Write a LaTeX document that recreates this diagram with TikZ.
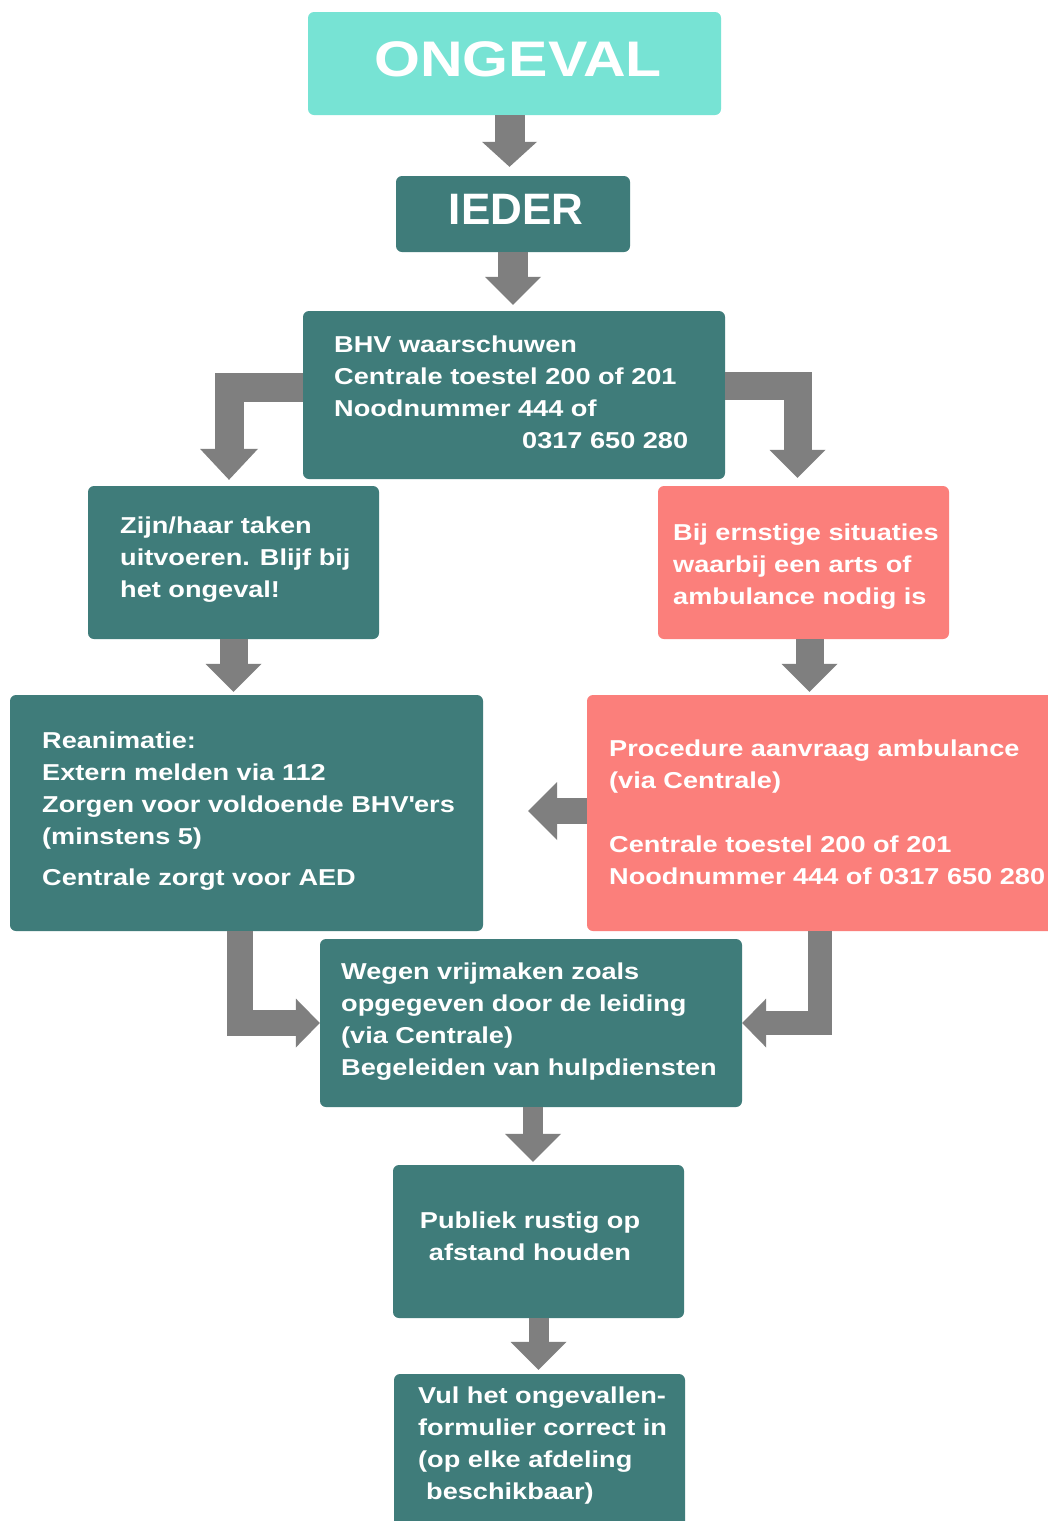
\documentclass[tikz,border=0pt]{standalone}
\usepackage{fontspec}
\setmainfont{Liberation Sans}[FakeStretch=1.18]
\newfontfamily\headfont{Liberation Sans}
\usetikzlibrary{arrows.meta}
\definecolor{turq}{HTML}{77E3D4}
\definecolor{boxteal}{HTML}{3F7C7A}
\definecolor{alertred}{HTML}{FB7F7B}
\definecolor{arrowgray}{HTML}{7F7F7F}

\begin{document}
\begin{tikzpicture}[x=1pt,y=-1pt,
    card/.style={rectangle,rounded corners=6pt,fill=#1,inner sep=0pt},
    card/.default=boxteal,
    txt/.style={anchor=north west,align=left,inner sep=0pt,text=white,font=\bfseries\fontsize{23}{32}\selectfont},
    blockarrow/.style={color=arrowgray,line width=#1,-{Triangle[width=56pt,length=28pt,line width=0pt]}},
    smallhead/.style={-{Triangle[width=49pt,length=24pt,line width=0pt]}}]
    \path[use as bounding box,fill=white] (0,0) rectangle (1048,1521);

    \node[card=turq,minimum width=413,minimum height=103] (ongeval) at (514.5,63.5) {};
    \node[card,minimum width=234,minimum height=76] (ieder) at (513,214) {};
    \node[card,minimum width=422,minimum height=168] (bhv) at (514,395) {};
    \node[card,minimum width=291,minimum height=153] (zijn) at (233.5,562.5) {};
    \node[card=alertred,minimum width=291,minimum height=153] (bij) at (803.5,562.5) {};
    \node[card,minimum width=473,minimum height=236] (rean) at (246.5,813) {};
    \node[card=alertred,minimum width=473,minimum height=236] (proc) at (823.5,813) {};
    \node[card,minimum width=422,minimum height=168] (wegen) at (531,1023) {};
    \node[card,minimum width=291,minimum height=153] (publiek) at (538.5,1241.5) {};
    \node[card,minimum width=291,minimum height=153] (vul) at (539.5,1450.5) {};

    \node[text=white,inner sep=0pt,font=\bfseries\fontsize{50}{50}\selectfont] (ongevaltxt) at (518,59.5) {ONGEVAL};
    \node[text=white,inner sep=0pt,font=\headfont\bfseries\fontsize{44}{44}\selectfont] (iedertxt) at (516,209) {IEDER};
    \node[txt] (bhvtxt) at (334,335.5) {BHV waarschuwen\\Centrale toestel 200 of 201\\Noodnummer 444 of\\\hspace*{188pt}0317 650 280};
    \node[txt] (zijntxt) at (120,516.5) {Zijn/haar taken\\uitvoeren. Blijf bij\\het ongeval!};
    \node[txt] (bijtxt) at (673,523.5) {Bij ernstige situaties\\waarbij een arts of\\ambulance nodig is};
    \node[txt] (reantxt) at (42,731.5) {Reanimatie:\\Extern melden via 112\\Zorgen voor voldoende BHV\textquotesingle ers\\(minstens 5)\\[9pt]Centrale zorgt voor AED};
    \node[txt] (proctxt) at (609,740) {Procedure aanvraag ambulance\\(via Centrale)\\[32pt]Centrale toestel 200 of 201\\Noodnummer 444 of 0317 650 280};
    \node[txt] (wegentxt) at (341,962.5) {Wegen vrijmaken zoals\\opgegeven door de leiding\\(via Centrale)\\Begeleiden van hulpdiensten};
    \node[txt,anchor=north,align=center] (publiektxt) at (530,1211.5) {Publiek rustig op\\afstand houden};
    \node[txt] (vultxt) at (418,1387) {Vul het ongevallen-\\formulier correct in\\(op elke afdeling\\\hspace*{8pt}beschikbaar)};

    \path[blockarrow=30pt,-{Triangle[width=55pt,length=25pt,line width=0pt]},shorten >=9pt] ([xshift=-5pt]ongeval.south) edge ([xshift=-5pt]ongeval.south |- ieder.north);
    \path[blockarrow=30pt,shorten >=6pt] (ieder.south) edge (ieder.south |- bhv.north);
    \draw[blockarrow=29pt,-{Triangle[width=58pt,length=31pt,line width=0pt]}] ([yshift=8pt]bhv.west) -| ([xshift=-4.5pt,yshift=6pt]zijn.north);
    \draw[blockarrow=28pt] ([yshift=9pt]bhv.east) -| ([xshift=-6pt,yshift=8pt]bij.north);
    \path[blockarrow=28pt,shorten >=3pt] (zijn.south) edge (zijn.south |- rean.north);
    \path[blockarrow=28pt,shorten >=3pt] ([xshift=6pt]bij.south) edge ([xshift=6pt]bij.south |- proc.north);
    \path[blockarrow=26pt,-{Triangle[width=58pt,length=29pt,line width=0pt]},shorten >=45pt] ([yshift=2pt]proc.west) edge ([yshift=2pt]rean.east);
    \draw[blockarrow=26pt,smallhead] ([xshift=-7pt]rean.south) |- (wegen.west);
    \draw[blockarrow=24pt,smallhead] ([xshift=-3.5pt]proc.south) |- (wegen.east);
    \path[blockarrow=20pt,shorten >=3pt] ([xshift=2pt]wegen.south) edge ([xshift=2pt]wegen.south |- publiek.north);
    \path[blockarrow=20pt,shorten >=4pt] (publiek.south) edge (publiek.south |- vul.north);
\end{tikzpicture}
\end{document}
